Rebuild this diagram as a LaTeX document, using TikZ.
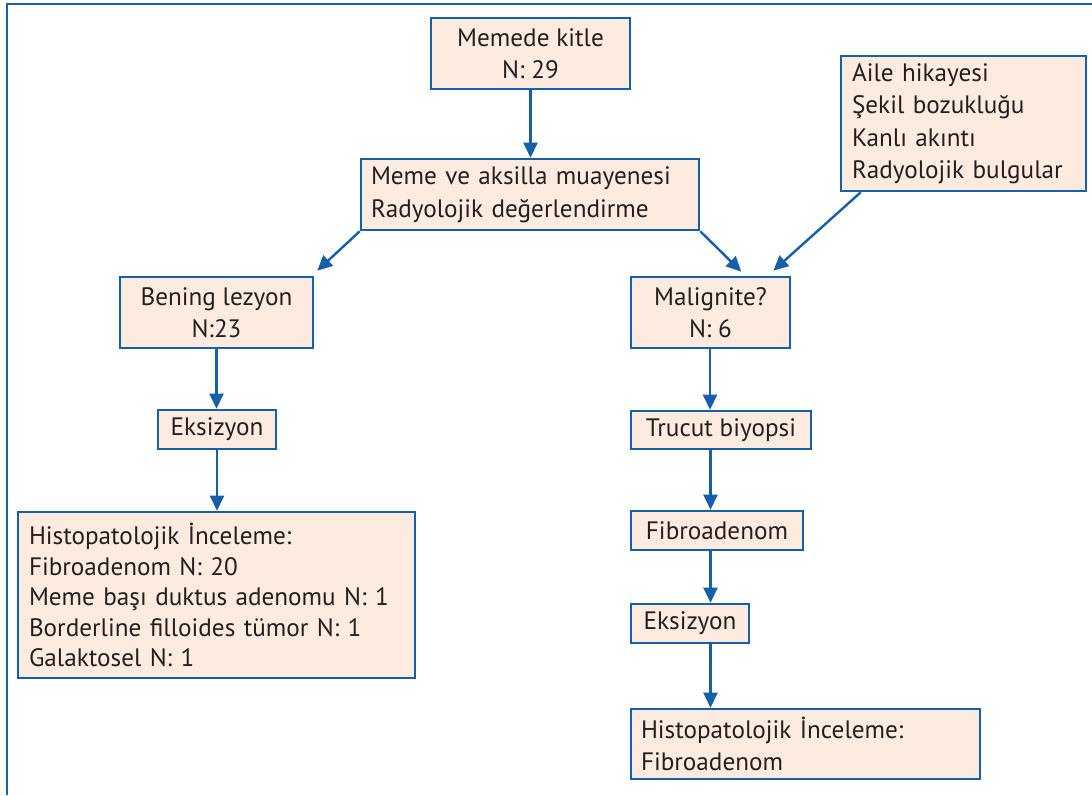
\documentclass[tikz,border=0pt]{standalone}
\usepackage{fontspec}
\setmainfont{PT Sans}
\usetikzlibrary{arrows.meta}
\definecolor{bl}{HTML}{1560A8}
\definecolor{pf}{HTML}{FDEBE0}
\definecolor{tx}{HTML}{231F20}
\tikzset{
  box/.style={draw=bl, line width=2.6pt, fill=pf, text=tx, inner sep=0pt, anchor=center,
    font=\fontsize{25.2}{32.5}\selectfont},
  lbox/.style={box, align=left},
  cbox/.style={box, align=center},
  arr/.style={draw=bl, line width=2.4pt, -{Triangle[length=15pt,width=14pt]}},
}
\begin{document}
\begin{tikzpicture}[x=1pt,y=-1pt]
\useasboundingbox (0,0) rectangle (1092,795);
\draw[bl, line width=2pt] (6.5,795) -- (6.5,4) -- (1092,4);
% boxes
\node[cbox, minimum width=199pt, minimum height=71pt] (top) at (530.5,53.5) {Memede kitle\\N: 29};
\node[lbox, minimum width=338pt, minimum height=71pt, text width=318pt] (exam) at (530,194.5) {Meme ve aksilla muayenesi\\Radyolojik değerlendirme};
\node[lbox, minimum width=245pt, minimum height=135pt, text width=223pt] (aile) at (963.5,123.5) {Aile hikayesi\\Şekil bozukluğu\\Kanlı akıntı\\Radyolojik bulgular};
\node[cbox, minimum width=193pt, minimum height=71pt] (bening) at (216.5,312.5) {Bening lezyon\\N:23};
\node[cbox, minimum width=159pt, minimum height=71pt] (malig) at (710.5,312.5) {Malignite?\\N: 6};
\node[cbox, minimum width=118pt, minimum height=39pt] (eksL) at (217,429.5) {Eksizyon};
\node[lbox, minimum width=397pt, minimum height=166pt, text width=375pt, font=\fontsize{25.2}{30.5}\selectfont] (histL) at (216.5,595) {Histopatolojik İnceleme:\\Fibroadenom N: 20\\Meme başı duktus adenomu N: 1\\Borderline filloides tümor N: 1\\Galaktosel N: 1};
\node[cbox, minimum width=180pt, minimum height=38pt] (trucut) at (721,430) {Trucut biyopsi};
\node[cbox, minimum width=172pt, minimum height=39pt] (fibro) at (717,530.5) {Fibroadenom};
\node[cbox, minimum width=118pt, minimum height=39pt] (eksR) at (690,623.5) {Eksizyon};
\node[lbox, minimum width=349pt, minimum height=70pt, text width=329pt] (histR) at (805.5,744) {Histopatolojik İnceleme:\\Fibroadenom};
% connectors
\draw[arr] (top.south) -- (top.south |- exam.north);
\draw[arr] (exam.south west) -- ([shift={(3,-5)}]bening.north east);
\draw[arr] (exam.south east) -- ([shift={(-50,-4)}]malig.north east);
\draw[arr] ([xshift=21pt]aile.south west) -- ([shift={(-18,-5)}]malig.north east);
\draw[arr] (bening.south) -- (bening.south |- eksL.north);
\draw[arr] (eksL.south) -- (eksL.south |- histL.north);
\draw[arr] ([xshift=-0.5pt]malig.south) -- ([xshift=-0.5pt]malig.south |- trucut.north);
\draw[arr] (trucut.south -| malig.south) -- (malig.south |- fibro.north);
\draw[arr] (fibro.south -| malig.south) -- (malig.south |- eksR.north);
\draw[arr] (eksR.south -| malig.south) -- (malig.south |- histR.north);
\end{tikzpicture}
\end{document}
